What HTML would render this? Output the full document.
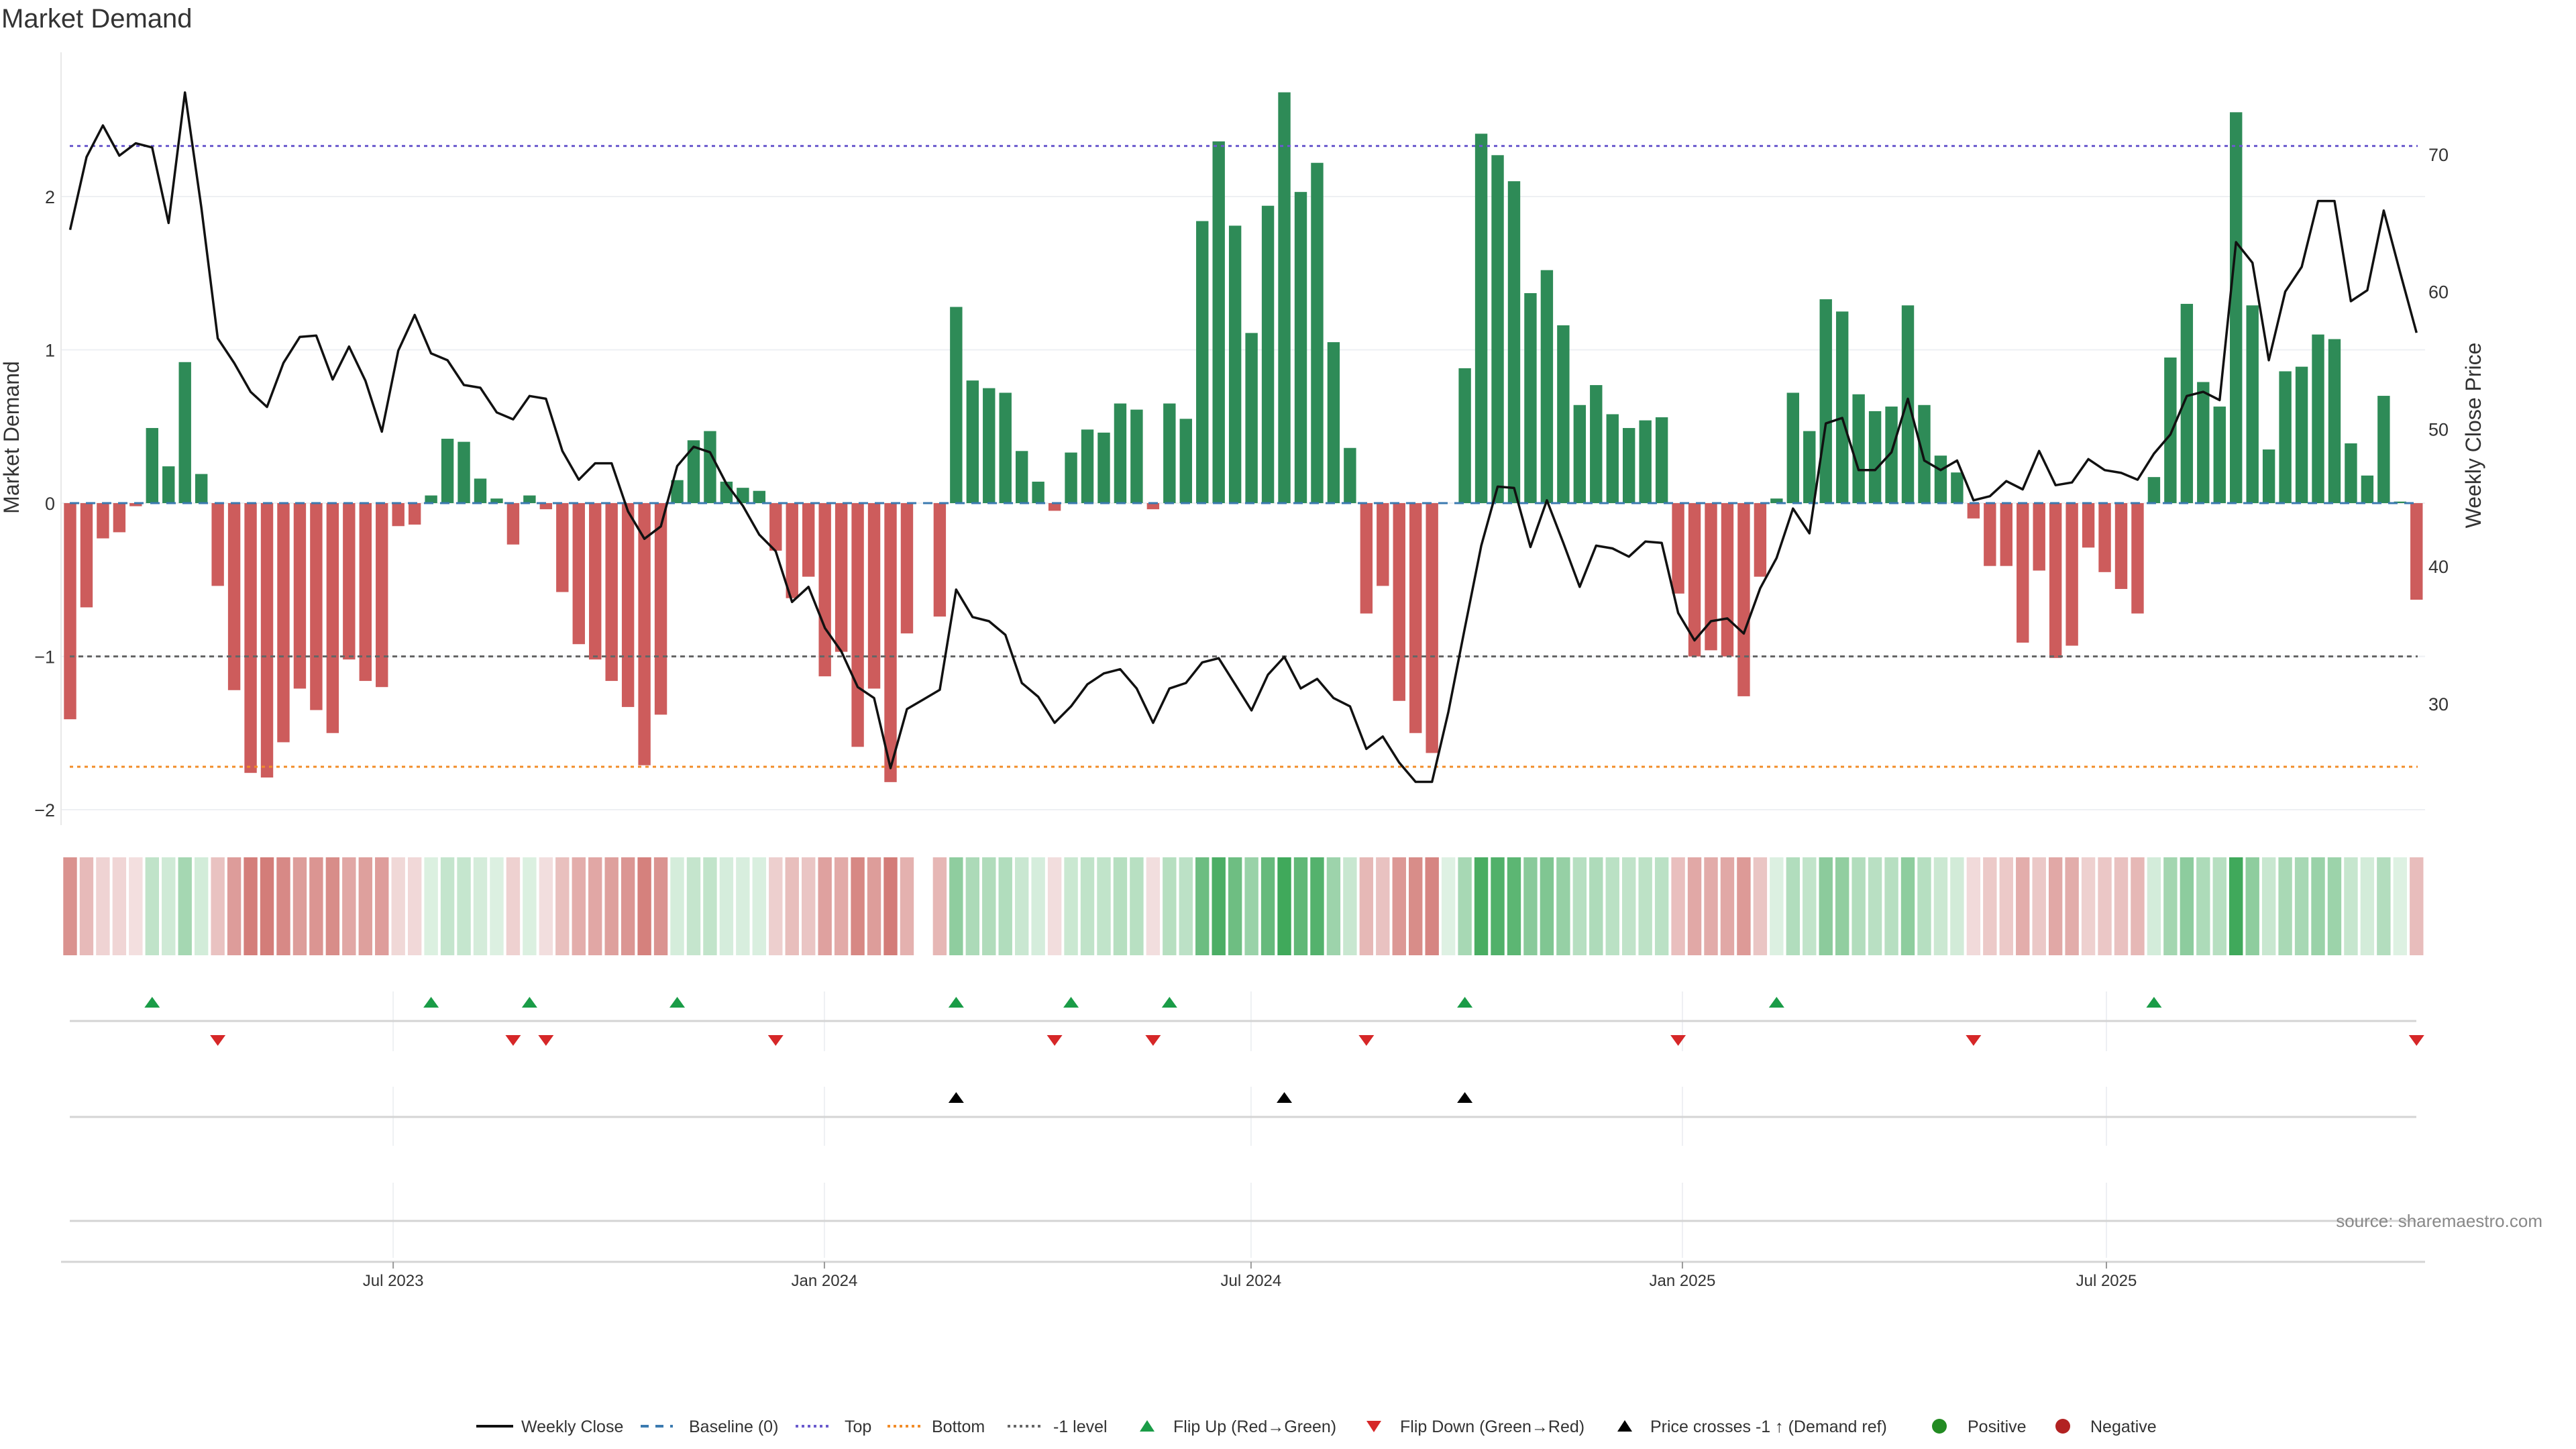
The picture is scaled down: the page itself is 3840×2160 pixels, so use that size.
<!DOCTYPE html>
<html><head><meta charset="utf-8"><style>
html,body{margin:0;padding:0;background:#fff;}
svg{display:block;font-family:"Liberation Sans",sans-serif;}
</style></head><body>
<svg id="chart" width="3840" height="2160" viewBox="0 0 3840 2160" xmlns="http://www.w3.org/2000/svg">
<text x="2" y="41" font-size="40" fill="#333">Market Demand</text>
<g id="grid"></g>
<g id="bars"></g>
<g id="refs"></g>
<g id="price"></g>
<g id="heat"></g>
<g id="marks"></g>
<g id="axes"></g>
<text transform="translate(28,652) rotate(-90)" text-anchor="middle" font-size="32" fill="#333">Market Demand</text>
<text transform="translate(3698,649) rotate(-90)" text-anchor="middle" font-size="32" fill="#333">Weekly Close Price</text>
<text x="3790" y="1829" text-anchor="end" font-size="26" fill="#888">source: sharemaestro.com</text>
<g id="legend" font-size="25" fill="#333">
  <g><line x1="710" y1="2126" x2="765" y2="2126" stroke="#111" stroke-width="4"/><text x="777" y="2135">Weekly Close</text></g>
  <g><line x1="955" y1="2126" x2="1003" y2="2126" stroke="#3b7ab0" stroke-width="4" stroke-dasharray="12,10"/><text x="1027" y="2135">Baseline (0)</text></g>
  <g><line x1="1186" y1="2126" x2="1236" y2="2126" stroke="#6a5acd" stroke-width="4" stroke-dasharray="4,5"/><text x="1259" y="2135">Top</text></g>
  <g><line x1="1323" y1="2126" x2="1373" y2="2126" stroke="#f28c28" stroke-width="4" stroke-dasharray="4,5"/><text x="1389" y="2135">Bottom</text></g>
  <g><line x1="1502" y1="2126" x2="1554" y2="2126" stroke="#666" stroke-width="4" stroke-dasharray="4,5"/><text x="1570" y="2135">-1 level</text></g>
  <g><polygon points="1710,2117 1721,2134 1699,2134" fill="#1a9c47"/><text x="1749" y="2135">Flip Up (Red→Green)</text></g>
  <g><polygon points="2037,2118 2059,2118 2048,2135" fill="#d62728"/><text x="2087" y="2135">Flip Down (Green→Red)</text></g>
  <g><polygon points="2422,2117 2433,2134 2411,2134" fill="#000"/><text x="2460" y="2135">Price crosses -1 ↑ (Demand ref)</text></g>
  <g><circle cx="2891" cy="2126" r="11" fill="#228b22"/><text x="2933" y="2135">Positive</text></g>
  <g><circle cx="3075" cy="2126" r="11" fill="#b22222"/><text x="3116" y="2135">Negative</text></g>
</g>
</svg>
<script>
const demand = [-1.41,-0.68,-0.23,-0.19,-0.02,0.49,0.24,0.92,0.19,-0.54,-1.22,-1.76,-1.79,-1.56,-1.21,-1.35,-1.50,-1.02,-1.16,-1.20,
-0.15,-0.14,0.05,0.42,0.40,0.16,0.03,-0.27,0.05,-0.04,-0.58,-0.92,-1.02,-1.16,-1.33,-1.71,-1.38,0.15,0.41,0.47,
0.14,0.10,0.08,-0.31,-0.62,-0.48,-1.13,-0.97,-1.59,-1.21,-1.82,-0.85,null,-0.74,1.28,0.80,0.75,0.72,0.34,0.14,
-0.05,0.33,0.48,0.46,0.65,0.61,-0.04,0.65,0.55,1.84,2.36,1.81,1.11,1.94,2.68,2.03,2.22,1.05,0.36,-0.72,
-0.54,-1.29,-1.50,-1.63,0,0.88,2.41,2.27,2.10,1.37,1.52,1.16,0.64,0.77,0.58,0.49,0.54,0.56,-0.59,-1.00,
-0.96,-1.00,-1.26,-0.48,0.03,0.72,0.47,1.33,1.25,0.71,0.60,0.63,1.29,0.64,0.31,0.20,-0.10,-0.41,-0.41,-0.91,
-0.44,-1.01,-0.93,-0.29,-0.45,-0.56,-0.72,0.17,0.95,1.30,0.79,0.63,2.55,1.29,0.35,0.86,0.89,1.10,1.07,0.39,
0.18,0.70,0.01,-0.63];
const price = [64.5,69.8,72.1,69.9,70.8,70.5,65.0,74.5,66.1,56.6,54.8,52.7,51.6,54.8,56.7,56.8,53.6,56.0,53.5,49.8,
55.7,58.3,55.5,55.0,53.2,53.0,51.2,50.7,52.4,52.2,48.4,46.3,47.5,47.5,44.0,42.0,42.9,47.3,48.7,48.3,
46.0,44.4,42.3,41.1,37.4,38.5,35.5,33.8,31.2,30.4,25.3,29.6,30.3,31.0,38.3,36.3,36.0,35.0,31.5,30.5,
28.6,29.8,31.4,32.2,32.5,31.1,28.6,31.1,31.5,33.0,33.3,31.4,29.5,32.1,33.4,31.1,31.8,30.4,29.8,26.7,
27.6,25.7,24.3,24.3,29.4,35.5,41.5,45.8,45.7,41.4,44.8,41.7,38.5,41.5,41.3,40.7,41.8,41.7,36.6,34.6,
36.0,36.2,35.1,38.4,40.6,44.2,42.4,50.4,50.8,47.0,47.0,48.3,52.2,47.7,47.0,47.7,44.8,45.1,46.2,45.6,
48.4,45.9,46.1,47.8,47.0,46.8,46.3,48.2,49.6,52.4,52.7,52.1,63.6,62.1,55.0,60.0,61.8,66.6,66.6,59.3,
60.1,65.9,61.4,57.0];
const crossUp = [54,74,85];
const yTicks = [2,1,0,-1,-2];
const yTickLabels = ["2","1","0","\u22121","\u22122"];
const y2Ticks = [70,60,50,40,30];
const xTickPos = [19.69,45.97,71.97,98.26,124.1];
const xTickLabels = ["Jul 2023","Jan 2024","Jul 2024","Jan 2025","Jul 2025"];
const topLevel = 2.33, bottomLevel = -1.72, minusLevel = -1;

const NS = "http://www.w3.org/2000/svg";
const X = i => 104.5 + 24.46 * i;
const YD = v => 750 - v * 228.5;
const YP = p => 230 + (70 - p) * 20.47;
const L = 91, R = 3615;
function mk(tag, attrs, parent){ const e=document.createElementNS(NS,tag); for(const k in attrs) e.setAttribute(k,attrs[k]); parent.appendChild(e); return e; }
const g = id => document.getElementById(id);

yTicks.forEach((t,k)=>{
  const ln = mk('line',{x1:L,x2:R,y1:YD(t),y2:YD(t),stroke:'#eef0f3','stroke-width':2},g('grid'));
  
  
  const tx = mk('text',{x:82,y:YD(t)+10,'text-anchor':'end','font-size':27,fill:'#333'},g('axes'));
  tx.textContent = yTickLabels[k];
  
  
});
y2Ticks.forEach(t=>{
  const tx = mk('text',{x:3620,y:YP(t)+10,'font-size':27,fill:'#333'},g('axes'));
  tx.textContent = t;
  
  
});
const yax = mk('line',{x1:L,x2:L,y1:78,y2:1230,stroke:'#e8e8e8','stroke-width':2},g('axes'));



const bl = mk('line',{x1:104,x2:3604,y1:YD(0),y2:YD(0),stroke:'#3b7ab0','stroke-width':3,'stroke-dasharray':'14,10'},g('refs'));



demand.forEach((v,i)=>{
  if(v===null||v===0) return;
  const y0 = YD(0), y1 = YD(v);
  const r = mk('rect',{x:X(i)-9.2,width:18.4,y:Math.min(y0,y1),height:Math.abs(y1-y0),fill:v>0?'#2e8b57':'#cd5c5c'},g('bars'));
  
  
});

[[topLevel,'#6a5acd','5,6','top-line'],[bottomLevel,'#f28c28','5,6','bottom-line'],[minusLevel,'#666','7,6','minus1-level-line']].forEach(a=>{
  const ln = mk('line',{x1:104,x2:3604,y1:YD(a[0]),y2:YD(a[0]),stroke:a[1],'stroke-width':3,'stroke-dasharray':a[2]},g('refs'));
  
  
});

const pl = mk('polyline',{points:price.map((p,i)=>X(i).toFixed(1)+','+YP(p).toFixed(1)).join(' '),fill:'none',stroke:'#111','stroke-width':3.5,'stroke-linejoin':'round'},g('price'));



function lerp(a,b,t){return Math.round(a+(b-a)*t);}
function heatColor(v){
  if(v>=0){ const t=Math.min(v/2.55,1); return `rgb(${lerp(222,64,t)},${lerp(241,169,t)},${lerp(227,91,t)})`; }
  const t=Math.min(-v/1.8,1); return `rgb(${lerp(243,211,t)},${lerp(224,124,t)},${lerp(224,120,t)})`;
}
demand.forEach((v,i)=>{
  if(v===null) return;
  const r = mk('rect',{x:X(i)-10.2,width:20.4,y:1278,height:146,fill:heatColor(v)},g('heat'));
  
  
});

[1522,1665,1820].forEach(y=>{
  const ln = mk('line',{x1:104,x2:3602,y1:y,y2:y,stroke:'#d4d4d4','stroke-width':3},g('axes'));
  
  
});
const xax = mk('line',{x1:L,x2:R,y1:1881,y2:1881,stroke:'#d4d4d4','stroke-width':3},g('axes'));


xTickPos.forEach((p,k)=>{
  const x = X(p);
  [[1478,1567],[1620,1708],[1763,1875]].forEach(s=>{
    const ln = mk('line',{x1:x,x2:x,y1:s[0],y2:s[1],stroke:'#eef0f3','stroke-width':2},g('grid'));
    
    
  });
  const tk = mk('line',{x1:x,x2:x,y1:1881,y2:1891,stroke:'#999','stroke-width':2},g('axes'));
  
  
  const tx = mk('text',{x:x,y:1917,'text-anchor':'middle','font-size':24,fill:'#333'},g('axes'));
  tx.textContent = xTickLabels[k];
  
  
});

let prevSign = null;
demand.forEach((v,i)=>{
  if(v===null||v===0) return;
  const s = v>0?1:-1;
  if(prevSign!==null && s!==prevSign){
    const x = X(i);
    if(s>0){
      const t = mk('polygon',{points:`${x},1486 ${x+11.5},1502 ${x-11.5},1502`,fill:'#1a9c47'},g('marks'));
      
      
    } else {
      const t = mk('polygon',{points:`${x-11.5},1543 ${x+11.5},1543 ${x},1559`,fill:'#d62728'},g('marks'));
      
      
    }
  }
  prevSign = s;
});
crossUp.forEach(i=>{
  const x = X(i);
  const t = mk('polygon',{points:`${x},1628 ${x+11.5},1644 ${x-11.5},1644`,fill:'#000'},g('marks'));
  
  
});
</script>
</body></html>
